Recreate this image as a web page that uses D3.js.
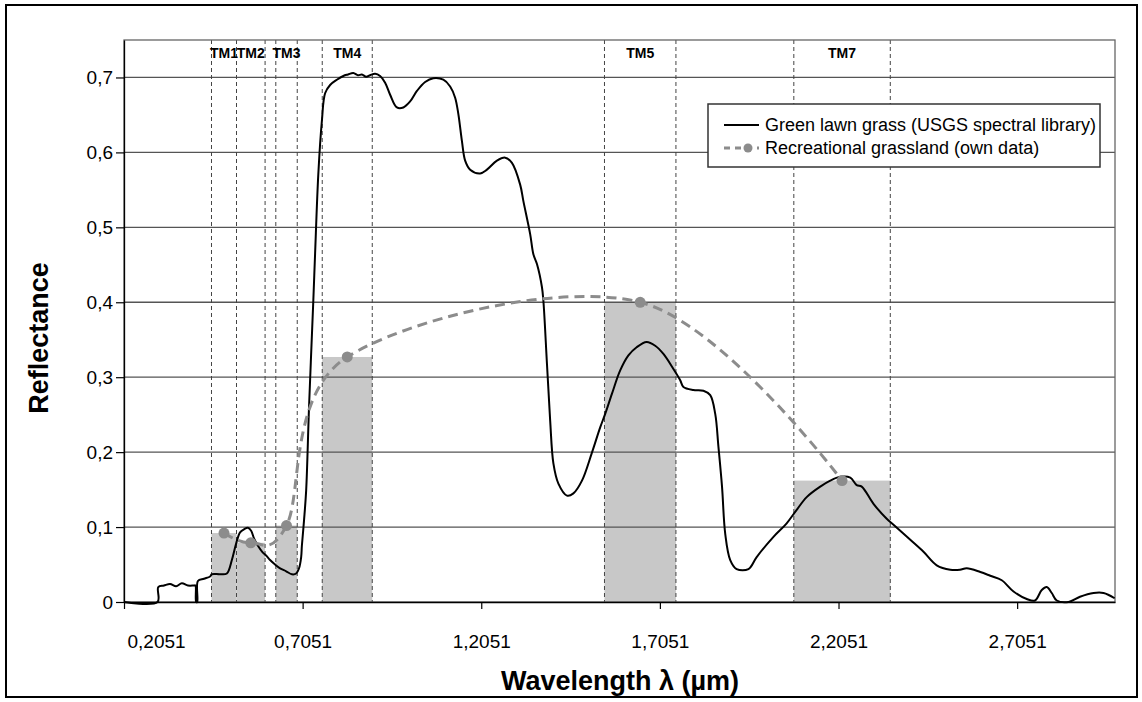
<!DOCTYPE html>
<html>
<head>
<meta charset="utf-8">
<script src="https://cdn.jsdelivr.net/npm/d3@7"></script>
<style>
  body { margin: 0; background: #fff; }
  svg text { font-family: "Liberation Sans", Arial, sans-serif; }
</style>
</head>
<body>
<svg id="chart" width="1142" height="702"></svg>
<script>
// Landsat TM bands
const bandNames = ["TM1", "TM2", "TM3", "TM4", "TM5", "TM7"];
const bandStart = [0.45, 0.52, 0.63, 0.76, 1.55, 2.08];
const bandEnd = [0.52, 0.60, 0.69, 0.90, 1.75, 2.35];

// own data (recreational grassland), one value per band
const ownWavelength = [0.485, 0.56, 0.66, 0.83, 1.65, 2.215];
const ownReflectance = [0.092, 0.079, 0.102, 0.327, 0.40, 0.162];

// USGS green lawn grass spectrum
const usgsWavelength = [
  0.2051, 0.299, 0.301, 0.317, 0.334, 0.351, 0.367, 0.384, 0.401, 0.405, 0.407, 0.410, 0.412,
  0.429, 0.446, 0.451, 0.474, 0.493, 0.507, 0.519, 0.530, 0.541, 0.552, 0.561, 0.569, 0.580,
  0.592, 0.603, 0.614, 0.628, 0.642, 0.659, 0.675, 0.687, 0.695, 0.701, 0.703, 0.709, 0.715,
  0.723, 0.735, 0.740, 0.749, 0.759, 0.768, 0.782, 0.801, 0.819, 0.832, 0.847, 0.860, 0.871,
  0.883, 0.894, 0.908, 0.922, 0.936, 0.950, 0.969, 0.987, 1.006, 1.025, 1.048, 1.071, 1.099,
  1.118, 1.132, 1.141, 1.151, 1.160, 1.174, 1.202, 1.221, 1.249, 1.272, 1.291, 1.314, 1.323,
  1.342, 1.351, 1.361, 1.375, 1.379, 1.389, 1.398, 1.407, 1.421, 1.445, 1.463, 1.487, 1.514,
  1.538, 1.552, 1.571, 1.594, 1.617, 1.640, 1.668, 1.692, 1.715, 1.743, 1.762, 1.771, 1.799,
  1.827, 1.846, 1.860, 1.869, 1.879, 1.888, 1.902, 1.920, 1.953, 1.976, 2.023, 2.060, 2.088,
  2.116, 2.154, 2.182, 2.210, 2.238, 2.256, 2.270, 2.303, 2.340, 2.359, 2.406, 2.443, 2.480,
  2.518, 2.545, 2.564, 2.602, 2.630, 2.662, 2.695, 2.732, 2.755, 2.774, 2.788, 2.802, 2.816,
  2.849, 2.881, 2.919, 2.947, 2.978
];
const usgsReflectance = [
  0, 0, 0.020, 0.022, 0.024, 0.021, 0.025, 0.022, 0.022, 0.022, 0, 0, 0.028,
  0.031, 0.034, 0.037, 0.037, 0.038, 0.056, 0.078, 0.093, 0.097, 0.099, 0.095, 0.085, 0.075,
  0.067, 0.062, 0.056, 0.050, 0.045, 0.041, 0.037, 0.038, 0.045, 0.060, 0.075, 0.109, 0.149,
  0.26, 0.402, 0.465, 0.571, 0.642, 0.679, 0.690, 0.697, 0.702, 0.704, 0.706, 0.703, 0.704,
  0.701, 0.703, 0.705, 0.702, 0.693, 0.677, 0.660, 0.660, 0.668, 0.682, 0.694, 0.699, 0.697,
  0.688, 0.673, 0.651, 0.615, 0.589, 0.577, 0.572, 0.577, 0.589, 0.593, 0.586, 0.557, 0.535,
  0.491, 0.464, 0.451, 0.420, 0.402, 0.318, 0.242, 0.185, 0.158, 0.142, 0.145, 0.162, 0.198,
  0.233, 0.251, 0.278, 0.309, 0.329, 0.340, 0.347, 0.342, 0.331, 0.311, 0.296, 0.287, 0.283,
  0.282, 0.276, 0.251, 0.207, 0.154, 0.091, 0.056, 0.044, 0.044, 0.060, 0.087, 0.105, 0.123,
  0.140, 0.154, 0.162, 0.167, 0.166, 0.156, 0.154, 0.131, 0.111, 0.103, 0.083, 0.067, 0.049,
  0.043, 0.043, 0.045, 0.040, 0.035, 0.029, 0.014, 0.004, 0.002, 0.016, 0.020, 0.012, 0.002,
  0, 0.007, 0.012, 0.012, 0.005
];

const xTicks = [0.2051, 0.7051, 1.2051, 1.7051, 2.2051, 2.7051];
const yTicks = [0, 0.1, 0.2, 0.3, 0.4, 0.5, 0.6, 0.7];

const svg = d3.select("#chart");
const plotLeft = 124, plotTop = 40, plotRight = 1115, plotBottom = 602;
const comma = d => String(d).replace(".", ",");

// outer frame
svg.append("rect")
  .attr("x", 6).attr("y", 5).attr("width", 1131).attr("height", 692)
  .attr("fill", "#fff").attr("stroke", "#000").attr("stroke-width", 2);

const x = d3.scaleLinear().domain([0.2051, 2.979]).range([plotLeft, plotRight]);
const y = d3.scaleLinear().domain([0, 0.75]).range([plotBottom, plotTop]);

// grey band bars (height = own data)
svg.append("g").selectAll("rect")
  .data(bandNames)
  .join("rect")
  .attr("x", (d, i) => x(bandStart[i]))
  .attr("width", (d, i) => x(bandEnd[i]) - x(bandStart[i]))
  .attr("y", (d, i) => y(ownReflectance[i]))
  .attr("height", (d, i) => y(0) - y(ownReflectance[i]))
  .attr("fill", "#c8c8c8");

// horizontal gridlines
svg.append("g").selectAll("line")
  .data(yTicks.filter(d => d > 0))
  .join("line")
  .attr("x1", plotLeft).attr("x2", plotRight)
  .attr("y1", d => y(d)).attr("y2", d => y(d))
  .attr("stroke", "#555").attr("stroke-width", 1.3);

// band edges, dashed
const edges = bandStart.concat(bandEnd);
svg.append("g").selectAll("line")
  .data(edges)
  .join("line")
  .attr("x1", d => x(d)).attr("x2", d => x(d))
  .attr("y1", plotTop).attr("y2", plotBottom)
  .attr("stroke", "#444").attr("stroke-width", 1)
  .attr("stroke-dasharray", "4,3");

// plot area border
svg.append("rect")
  .attr("x", plotLeft).attr("y", plotTop)
  .attr("width", plotRight - plotLeft).attr("height", plotBottom - plotTop)
  .attr("fill", "none").attr("stroke", "#666").attr("stroke-width", 1.3);

// band names
svg.append("g").selectAll("text")
  .data(bandNames)
  .join("text")
  .attr("x", (d, i) => x((bandStart[i] + bandEnd[i]) / 2))
  .attr("y", 58)
  .attr("text-anchor", "middle")
  .attr("font-size", 14).attr("font-weight", "bold")
  .text(d => d);

// USGS curve
const usgs = usgsWavelength.map((w, i) => [w, usgsReflectance[i]]);
svg.append("path")
  .datum(usgs)
  .attr("fill", "none").attr("stroke", "#000").attr("stroke-width", 2)
  .attr("stroke-linejoin", "round")
  .attr("d", d3.line().x(d => x(d[0])).y(d => y(d[1])).curve(d3.curveCatmullRom.alpha(0.5)));

// own data curve
const own = ownWavelength.map((w, i) => [w, ownReflectance[i]]);
svg.append("path")
  .datum(own)
  .attr("fill", "none").attr("stroke", "#8c8c8c").attr("stroke-width", 3)
  .attr("stroke-dasharray", "10,6")
  .attr("d", d3.line().x(d => x(d[0])).y(d => y(d[1])).curve(d3.curveCardinal.tension(0)));
svg.append("g").selectAll("circle")
  .data(own)
  .join("circle")
  .attr("cx", d => x(d[0])).attr("cy", d => y(d[1]))
  .attr("r", 5.5).attr("fill", "#8c8c8c");

// axes
const xAxis = svg.append("g")
  .attr("transform", `translate(0,${plotBottom})`)
  .call(d3.axisBottom(x).tickValues(xTicks).tickSize(7).tickSizeOuter(0).tickFormat(comma));
const yAxis = svg.append("g")
  .attr("transform", `translate(${plotLeft},0)`)
  .call(d3.axisLeft(y).tickValues(yTicks).tickSize(8).tickSizeOuter(0).tickFormat(comma));
[xAxis, yAxis].forEach(a => {
  a.select(".domain").attr("stroke", "#000").attr("stroke-width", 1.3);
  a.selectAll(".tick line").attr("stroke", "#000").attr("stroke-width", 1.2);
  a.selectAll("text").attr("font-size", 19).attr("fill", "#000")
    .attr("font-family", "Liberation Sans, Arial, sans-serif");
});
xAxis.selectAll("text").attr("y", 46).attr("dy", 0);
xAxis.selectAll(".tick").filter(d => d === 0.2051).select("text")
  .attr("text-anchor", "start").attr("dx", 3);

// axis titles
svg.append("text")
  .attr("x", 620).attr("y", 690)
  .attr("text-anchor", "middle")
  .attr("font-size", 27).attr("font-weight", "bold")
  .text("Wavelength λ (µm)");
svg.append("text")
  .attr("transform", "translate(48,338) rotate(-90)")
  .attr("text-anchor", "middle")
  .attr("font-size", 27).attr("font-weight", "bold")
  .text("Reflectance");

// legend
const lg = svg.append("g");
lg.append("rect")
  .attr("x", 708).attr("y", 104).attr("width", 392).attr("height", 63)
  .attr("fill", "#fff").attr("stroke", "#333").attr("stroke-width", 1.5);
lg.append("line")
  .attr("x1", 724).attr("x2", 759).attr("y1", 125).attr("y2", 125)
  .attr("stroke", "#000").attr("stroke-width", 2);
lg.append("line")
  .attr("x1", 724).attr("x2", 759).attr("y1", 148).attr("y2", 148)
  .attr("stroke", "#8c8c8c").attr("stroke-width", 3).attr("stroke-dasharray", "6,5");
lg.append("circle").attr("cx", 748).attr("cy", 148).attr("r", 4.5).attr("fill", "#8c8c8c");
lg.append("text").attr("x", 765).attr("y", 131).attr("font-size", 18)
  .text("Green lawn grass (USGS spectral library)");
lg.append("text").attr("x", 765).attr("y", 154).attr("font-size", 18)
  .text("Recreational grassland (own data)");
</script>
</body>
</html>
